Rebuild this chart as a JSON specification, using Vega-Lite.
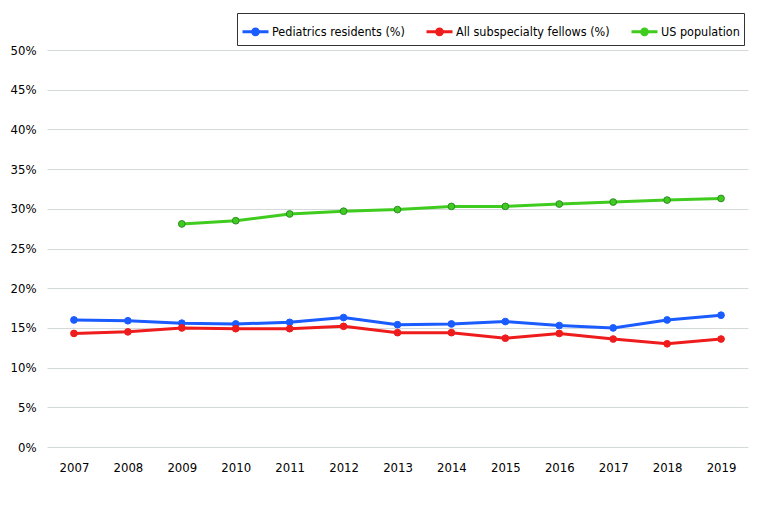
{
  "$schema": "https://vega.github.io/schema/vega-lite/v6.json",
  "autosize": "none",
  "width": 701,
  "height": 397,
  "padding": {"left": 47, "top": 50, "right": 14, "bottom": 67},
  "background": "white",
  "config": {
    "view": {"stroke": null},
    "font": "Liberation Sans Narrow, DejaVu Sans Condensed, sans-serif"
  },
  "data": {
    "values": [
      {"year": "2007", "series": "Pediatrics residents (%)", "value": 0.160},
      {"year": "2008", "series": "Pediatrics residents (%)", "value": 0.159},
      {"year": "2009", "series": "Pediatrics residents (%)", "value": 0.156},
      {"year": "2010", "series": "Pediatrics residents (%)", "value": 0.155},
      {"year": "2011", "series": "Pediatrics residents (%)", "value": 0.157},
      {"year": "2012", "series": "Pediatrics residents (%)", "value": 0.163},
      {"year": "2013", "series": "Pediatrics residents (%)", "value": 0.154},
      {"year": "2014", "series": "Pediatrics residents (%)", "value": 0.155},
      {"year": "2015", "series": "Pediatrics residents (%)", "value": 0.158},
      {"year": "2016", "series": "Pediatrics residents (%)", "value": 0.153},
      {"year": "2017", "series": "Pediatrics residents (%)", "value": 0.150},
      {"year": "2018", "series": "Pediatrics residents (%)", "value": 0.160},
      {"year": "2019", "series": "Pediatrics residents (%)", "value": 0.166},
      {"year": "2007", "series": "All subspecialty fellows (%)", "value": 0.143},
      {"year": "2008", "series": "All subspecialty fellows (%)", "value": 0.145},
      {"year": "2009", "series": "All subspecialty fellows (%)", "value": 0.150},
      {"year": "2010", "series": "All subspecialty fellows (%)", "value": 0.149},
      {"year": "2011", "series": "All subspecialty fellows (%)", "value": 0.149},
      {"year": "2012", "series": "All subspecialty fellows (%)", "value": 0.152},
      {"year": "2013", "series": "All subspecialty fellows (%)", "value": 0.144},
      {"year": "2014", "series": "All subspecialty fellows (%)", "value": 0.144},
      {"year": "2015", "series": "All subspecialty fellows (%)", "value": 0.137},
      {"year": "2016", "series": "All subspecialty fellows (%)", "value": 0.143},
      {"year": "2017", "series": "All subspecialty fellows (%)", "value": 0.136},
      {"year": "2018", "series": "All subspecialty fellows (%)", "value": 0.130},
      {"year": "2019", "series": "All subspecialty fellows (%)", "value": 0.136},
      {"year": "2009", "series": "US population", "value": 0.281},
      {"year": "2010", "series": "US population", "value": 0.285},
      {"year": "2011", "series": "US population", "value": 0.2935},
      {"year": "2012", "series": "US population", "value": 0.297},
      {"year": "2013", "series": "US population", "value": 0.299},
      {"year": "2014", "series": "US population", "value": 0.303},
      {"year": "2015", "series": "US population", "value": 0.303},
      {"year": "2016", "series": "US population", "value": 0.306},
      {"year": "2017", "series": "US population", "value": 0.3085},
      {"year": "2018", "series": "US population", "value": 0.311},
      {"year": "2019", "series": "US population", "value": 0.313}
    ]
  },
  "encoding": {
    "x": {
      "field": "year",
      "type": "ordinal",
      "scale": {"type": "point", "padding": 0.5},
      "axis": {
        "title": null,
        "labelAngle": 0,
        "domain": false,
        "ticks": false,
        "labelPadding": 14,
        "labelFontSize": 13,
        "labelColor": "#000000"
      }
    },
    "y": {
      "field": "value",
      "type": "quantitative",
      "scale": {"domain": [0, 0.5], "nice": false},
      "axis": {
        "title": null,
        "values": [0, 0.05, 0.1, 0.15, 0.2, 0.25, 0.3, 0.35, 0.4, 0.45, 0.5],
        "format": ".0%",
        "domain": false,
        "ticks": false,
        "labelPadding": 11,
        "labelFontSize": 13,
        "labelColor": "#000000",
        "gridColor": "#d4d9d9",
        "gridWidth": 1
      }
    },
    "color": {
      "field": "series",
      "type": "nominal",
      "scale": {
        "domain": ["Pediatrics residents (%)", "All subspecialty fellows (%)", "US population"],
        "range": ["#1a5cff", "#ee1c1c", "#3fcc1e"]
      },
      "legend": {
        "title": null,
        "orient": "none",
        "direction": "horizontal",
        "legendX": 190,
        "legendY": -37,
        "padding": 4,
        "strokeColor": "#333333",
        "symbolType": "M-1,0L1,0M-0.22,0A0.22,0.22 0 1,1 0.22,0A0.22,0.22 0 1,1 -0.22,0Z",
        "symbolSize": 676,
        "symbolStrokeWidth": 3,
        "labelFontSize": 12.5,
        "labelColor": "#000000",
        "labelOffset": 2,
        "columnPadding": 15,
        "labelLimit": 300,
        "encode": {
          "symbols": {
            "update": {
              "fill": {"field": "value", "scale": "color"},
              "stroke": {"field": "value", "scale": "color"},
              "fillOpacity": {"value": 1}
            }
          }
        }
      }
    }
  },
  "layer": [
    {
      "mark": {"type": "line", "strokeWidth": 3}
    },
    {
      "mark": {"type": "point", "filled": true, "size": 45, "opacity": 1, "strokeWidth": 1},
      "encoding": {
        "stroke": {
          "field": "series",
          "type": "nominal",
          "scale": {
            "domain": ["Pediatrics residents (%)", "All subspecialty fellows (%)", "US population"],
            "range": ["#1a5cff", "#ee1c1c", "#2f8a2a"]
          },
          "legend": null
        }
      }
    }
  ]
}
